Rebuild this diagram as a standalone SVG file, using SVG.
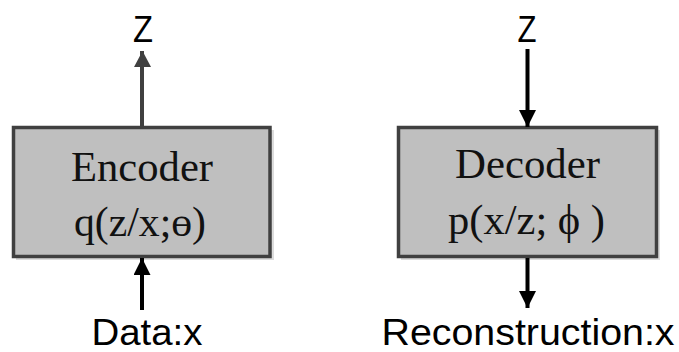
<svg xmlns="http://www.w3.org/2000/svg" width="679" height="352" viewBox="0 0 679 352">
<style>
.box{fill:#bfbfbf;stroke:#404040;stroke-width:3.5}
.shadow{fill:#dcdcdc}
.serif{font-family:"Liberation Serif","Times New Roman",serif;font-size:42px;fill:#111;text-anchor:middle}
.sans{font-family:"Liberation Sans",Arial,sans-serif;font-size:37px;fill:#000;text-anchor:middle}
.gray{stroke:#404040;stroke-width:4;fill:none}
.blk{stroke:#000;stroke-width:4;fill:none}
</style>
<defs>
<marker id="ag" markerWidth="16" markerHeight="17" refX="16" refY="8" orient="auto" markerUnits="userSpaceOnUse" viewBox="0 0 16 17"><path d="M0,0 L16,8.5 L0,17 Z" fill="#404040"/></marker>
<marker id="ab" markerWidth="17" markerHeight="17" refX="17" refY="8.5" orient="auto" markerUnits="userSpaceOnUse" viewBox="0 0 17 17"><path d="M0,0 L17,8.5 L0,17 Z" fill="#000"/></marker>
</defs>
<rect width="679" height="352" fill="#fff"/>
<g id="encoder">
<rect class="shadow" x="16" y="130" width="258" height="130"/>
<rect class="box" x="13.5" y="127.5" width="256.5" height="129"/>
<text class="serif" x="142" y="181" textLength="142" lengthAdjust="spacingAndGlyphs">Encoder</text>
<text class="serif" x="140" y="236" textLength="132" lengthAdjust="spacingAndGlyphs">q(z/x;ɵ)</text>
</g>
<g id="decoder">
<rect class="shadow" x="401" y="130" width="259" height="130"/>
<rect class="box" x="398.5" y="127.5" width="258" height="129"/>
<text class="serif" x="527.5" y="178" textLength="145" lengthAdjust="spacingAndGlyphs">Decoder</text>
<text class="serif" x="526.5" y="234" textLength="157" lengthAdjust="spacingAndGlyphs">p(x/z; ϕ )</text>
</g>
<g id="z-top-left"><text class="sans" x="143" y="42" textLength="20" lengthAdjust="spacingAndGlyphs">Z</text></g>
<g id="z-top-right"><text class="sans" x="527" y="42" textLength="19" lengthAdjust="spacingAndGlyphs">Z</text></g>
<g id="data-x"><text class="sans" x="147" y="345" textLength="111" lengthAdjust="spacingAndGlyphs">Data:x</text></g>
<g id="reconstruction-x"><text class="sans" x="528" y="345" textLength="293" lengthAdjust="spacingAndGlyphs">Reconstruction:x</text></g>
<g id="connectors">
<line class="gray" x1="142" y1="127" x2="142" y2="51" marker-end="url(#ag)"/>
<line class="blk" x1="527.5" y1="49" x2="527.5" y2="127" marker-end="url(#ab)"/>
<line class="blk" x1="142" y1="310" x2="142" y2="258" marker-end="url(#ab)"/>
<line class="blk" x1="527.5" y1="258" x2="527.5" y2="308" marker-end="url(#ab)"/>
</g>
</svg>
